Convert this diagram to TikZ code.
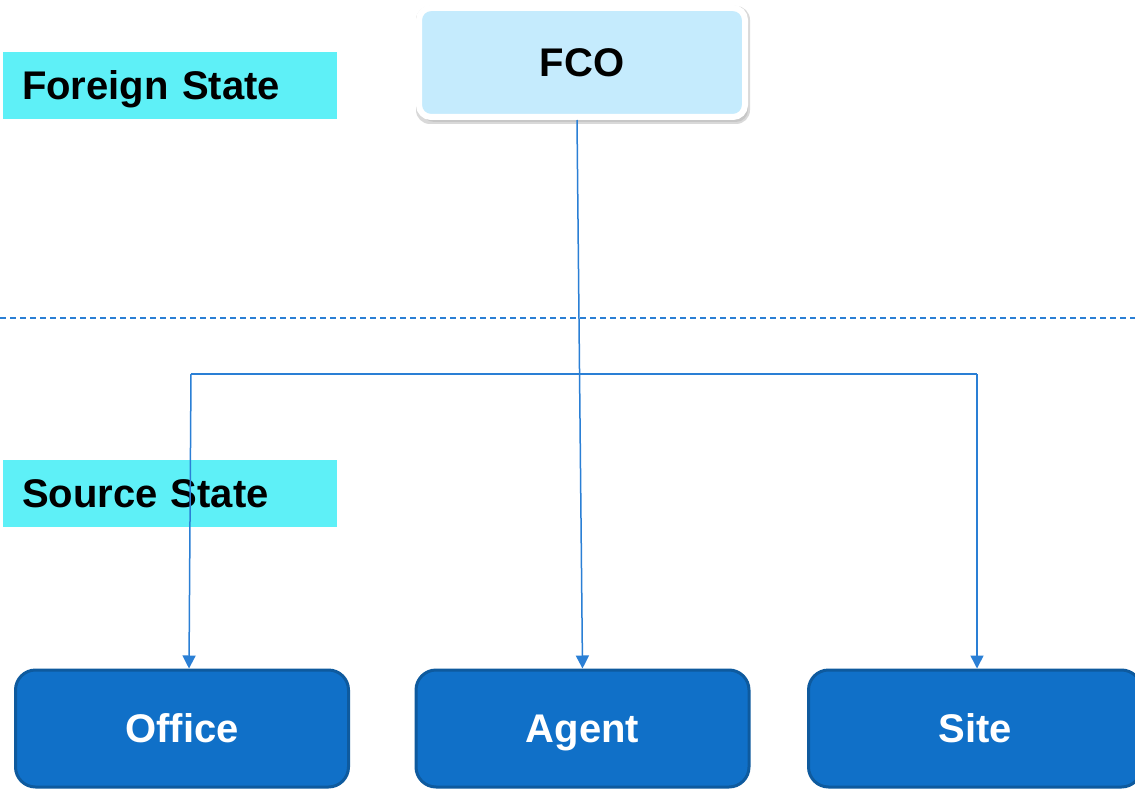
\documentclass[tikz,border=0pt]{standalone}
\usepackage{fontspec}
\setmainfont{Liberation Sans}
\usetikzlibrary{shadows,arrows.meta}
\definecolor{fcofill}{HTML}{C5EBFD}
\definecolor{labelfill}{HTML}{5EF0F7}
\definecolor{boxfill}{HTML}{1070C8}
\definecolor{boxedge}{HTML}{0E5A9E}
\definecolor{linec}{HTML}{2A7FD5}
\tikzset{
  capfont/.style={font=\fontsize{40}{42}\selectfont\bfseries, text height=28.6pt, text depth=0pt},
  fcobox/.style={draw=white, line width=6pt, fill=fcofill, rounded corners=12pt,
    drop shadow={opacity=0.2, shadow xshift=3pt, shadow yshift=-5pt},
    minimum width=326pt, minimum height=109pt, inner sep=0pt,
    capfont, text=black},
  statelabel/.style={fill=labelfill, minimum width=334pt, minimum height=67pt,
    inner sep=0pt, capfont, text=black,
    text width=296pt, align=left},
  bluebox/.style={draw=boxedge, line width=3pt, fill=boxfill, rounded corners=20pt,
    minimum width=333pt, minimum height=117pt, inner sep=0pt,
    capfont, text=white},
  conn/.style={draw=linec, line width=1.5pt},
  arr/.style={conn, -{Triangle[length=13pt,width=13pt]}},
}
\begin{document}
\begin{tikzpicture}[x=1pt,y=-1pt]
\useasboundingbox (0,0) rectangle (1135,789);
\fill[white] (0,0) rectangle (1135,789);
\node[statelabel] (fs) at (170,85.5) {Foreign State};
\node[statelabel] (ss) at (170,493.5) {Source State};
\fill[black!15, rounded corners=14pt] (416,6) rectangle (750,124);
\node[fcobox] (fco) at (582,62.5) {FCO};
\draw[conn, dashed, dash pattern=on 6pt off 4pt] (0,318) -- (1135,318);
\node[bluebox] (office) at (182,728.5) {Office};
\node[bluebox] (agent) at (582.5,728.5) {Agent};
\node[bluebox] (site) at (975,728.5) {Site};
\coordinate (jl) at (191,374);
\coordinate (jr) at (977,374);
\draw[arr] ([xshift=-5pt]fco.south) -- (agent.north);
\draw[conn] (jl) -- (jr);
\draw[arr] (jl) -- ([xshift=7pt]office.north);
\draw[arr] (jr) -- (jr |- site.north);
\end{tikzpicture}
\end{document}
